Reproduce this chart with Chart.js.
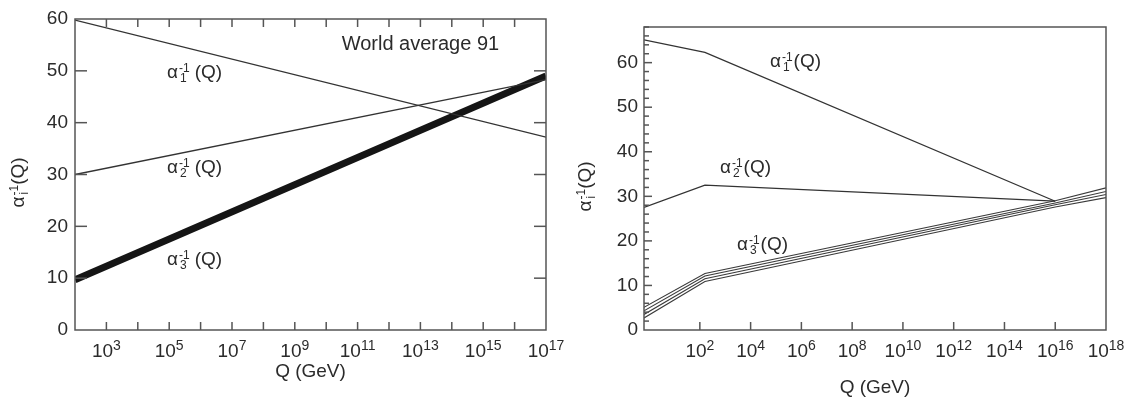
<!DOCTYPE html>
<html lang="en">
<head>
<meta charset="utf-8">
<title>Running couplings</title>
<script src="https://cdn.jsdelivr.net/npm/chart.js@4.4.1/dist/chart.umd.min.js"></script>
<style>
  html, body { margin: 0; padding: 0; background: #fff; }
  #wrap { position: relative; width: 1127px; height: 399px; }
  .panel { position: absolute; top: 0; height: 399px; }
  #left { left: 0; width: 565px; }
  #right { left: 565px; width: 562px; }
</style>
</head>
<body>
<div id="wrap">
  <div class="panel" id="left"><canvas id="chartLeft"></canvas></div>
  <div class="panel" id="right"><canvas id="chartRight"></canvas></div>
</div>
<script>
// ---- left panel: world average 91, x = log10(Q / GeV)
var leftLogQ = [2, 17];
var leftA1 = [59.8, 37.2];
var leftA2 = [30.0, 48.3];
var leftA3 = [9.7, 49.0];
var leftDecades = [3, 4, 5, 6, 7, 8, 9, 10, 11, 12, 13, 14, 15, 16, 17];
var leftLabelled = [3, 5, 7, 9, 11, 13, 15, 17];
var leftYTicks = [0, 10, 20, 30, 40, 50, 60];

// ---- right panel, x = log10(Q / GeV)
var rightLogQ = [-0.2, 2.2, 16, 18];
var rightA1 = [65.1, 62.3, 28.9, null];
var rightA2 = [27.5, 32.5, 28.9, null];
var rightA3a = [5.1, 12.7, 29.0, 31.9];
var rightA3b = [4.3, 12.1, 28.5, 31.1];
var rightA3c = [3.5, 11.5, 28.1, 30.4];
var rightA3d = [2.7, 10.9, 27.6, 29.7];
var rightDecades = [2, 4, 6, 8, 10, 12, 14, 16, 18];
var rightYTicks = [0, 10, 20, 30, 40, 50, 60];
var rightYMinor = [2, 4, 6, 8, 12, 14, 16, 18, 22, 24, 26, 28, 32, 34, 36, 38, 42, 44, 46, 48, 52, 54, 56, 58, 62, 64, 66, 68];

var FONT = '"Liberation Sans", Arial, Helvetica, sans-serif';
var INK = '#2b2b2b';
var AXIS = '#555';

function pts(xs, ys) {
  return xs.map(function (x, i) { return {x: x, y: ys[i]}; });
}

// alpha with stacked -1 superscript and subscript, then (Q)
function drawAlpha(ctx, x, y, sub, gap) {
  ctx.textAlign = 'left';
  ctx.textBaseline = 'alphabetic';
  ctx.font = '19px ' + FONT;
  ctx.fillText('\u03b1', x, y);
  var sx = x + ctx.measureText('\u03b1').width + 1;
  ctx.font = '12px ' + FONT;
  ctx.fillText('-1', sx, y - 6);
  ctx.fillText(sub, sx + 1, y + 4);
  var w = Math.max(ctx.measureText('-1').width, ctx.measureText(sub).width + 1);
  ctx.font = '19px ' + FONT;
  ctx.fillText('(Q)', sx + w + gap, y);
  return sx + w + gap + ctx.measureText('(Q)').width - x;
}

var decor = {
  id: 'decor',
  afterDraw: function (chart, args, opt) {
    if (!opt || !opt.ticks) return;
    var ctx = chart.ctx, a = chart.chartArea;
    var xs = chart.scales.x, ys = chart.scales.y;
    ctx.save();
    ctx.strokeStyle = AXIS;
    ctx.lineWidth = 1.5;
    ctx.strokeRect(a.left, a.top, a.right - a.left, a.bottom - a.top);
    opt.ticks.forEach(function (t) {
      var sc = chart.scales[t.axis];
      t.values.forEach(function (v) {
        var p = sc.getPixelForValue(v);
        ctx.beginPath();
        if (t.side === 'bottom') { ctx.moveTo(p, a.bottom); ctx.lineTo(p, a.bottom - t.len); }
        else if (t.side === 'top') { ctx.moveTo(p, a.top); ctx.lineTo(p, a.top + t.len); }
        else if (t.side === 'left') { ctx.moveTo(a.left, p); ctx.lineTo(a.left + t.len, p); }
        else { ctx.moveTo(a.right, p); ctx.lineTo(a.right - t.len, p); }
        ctx.stroke();
      });
    });
    ctx.fillStyle = INK;
    // x tick labels 10^n with raised exponent, at the scale's own ticks
    xs.ticks.forEach(function (tk) {
      if (opt.labelled.indexOf(tk.value) < 0) return;
      var p = xs.getPixelForValue(tk.value);
      var e = String(tk.value);
      ctx.textAlign = 'left';
      ctx.textBaseline = 'alphabetic';
      ctx.font = '19px ' + FONT;
      var w1 = ctx.measureText('10').width;
      ctx.font = '14px ' + FONT;
      var w2 = ctx.measureText(e).width;
      var x0 = p - (w1 + w2) / 2;
      ctx.font = '19px ' + FONT;
      ctx.fillText('10', x0, a.bottom + 27);
      ctx.font = '14px ' + FONT;
      ctx.fillText(e, x0 + w1, a.bottom + 20);
    });
    opt.alphas.forEach(function (l) {
      drawAlpha(ctx, xs.getPixelForValue(l.x), ys.getPixelForValue(l.y), l.sub, l.gap);
    });
    opt.texts.forEach(function (t) {
      ctx.font = '20px ' + FONT;
      ctx.textAlign = 'center';
      ctx.textBaseline = 'middle';
      ctx.fillText(t.text, xs.getPixelForValue(t.x), ys.getPixelForValue(t.y));
    });
    // rotated y axis title
    ctx.translate(a.left - opt.titleOffset, (a.top + a.bottom) / 2 + 3);
    ctx.rotate(-Math.PI / 2);
    drawAlpha(ctx, -30, 0, 'i', 0);
    ctx.restore();
  }
};
Chart.register(decor);

function baseOptions(o) {
  return {
    responsive: true,
    maintainAspectRatio: false,
    animation: false,
    layout: {padding: o.padding},
    plugins: {legend: {display: false}, tooltip: {enabled: false}, decor: o.decor},
    elements: {point: {radius: 0}, line: {tension: 0}},
    scales: {
      x: {
        type: 'linear', min: o.xmin, max: o.xmax,
        grid: {display: false, drawTicks: false},
        border: {display: false},
        afterFit: function (s) { s.height = o.xh; s.paddingLeft = 0; s.paddingRight = 0; },
        afterBuildTicks: function (s) { s.ticks = o.xticks.map(function (v) { return {value: v}; }); },
        ticks: {display: false},
        title: {display: true, text: 'Q (GeV)', color: INK, font: {family: FONT, size: 19},
                padding: {top: 0, bottom: o.titlePad}}
      },
      y: {
        type: 'linear', min: o.ymin, max: o.ymax,
        grid: {display: false, drawTicks: false},
        border: {display: false},
        afterFit: function (s) { s.width = o.yw; },
        afterBuildTicks: function (s) { s.ticks = o.yticks.map(function (v) { return {value: v}; }); },
        ticks: {
          autoSkip: false, padding: o.ypad, color: INK,
          font: {family: FONT, size: 19}
        }
      }
    }
  };
}

function thin(data, w, c) {
  return {data: data, borderColor: c || '#333', borderWidth: w || 1.3, fill: false, spanGaps: false};
}

new Chart(document.getElementById('chartLeft'), {
  type: 'line',
  data: {
    datasets: [
      thin(pts(leftLogQ, leftA1)),
      thin(pts(leftLogQ, leftA2)),
      {data: pts(leftLogQ, leftA3), borderColor: '#151515', borderWidth: 7, borderCapStyle: 'butt', fill: false}
    ]
  },
  options: baseOptions({
    padding: {top: 19, right: 19, left: 0, bottom: 0},
    xmin: 2, xmax: 17, ymin: 0, ymax: 60,
    xh: 69, yw: 75, ypad: 7, titlePad: 16,
    xticks: leftDecades, yticks: leftYTicks,
    decor: {
      labelled: leftLabelled,
      ticks: [
        {axis: 'x', side: 'bottom', len: 8, values: leftDecades.slice(0, -1)},
        {axis: 'x', side: 'top', len: 8, values: leftDecades.slice(0, -1)},
        {axis: 'y', side: 'left', len: 12, values: [10, 20, 30, 40, 50]},
        {axis: 'y', side: 'right', len: 12, values: [10, 20, 30, 40, 50]}
      ],
      alphas: [
        {x: 4.93, y: 48.6, sub: '1', gap: 5},
        {x: 4.93, y: 30.3, sub: '2', gap: 5},
        {x: 4.93, y: 12.5, sub: '3', gap: 5}
      ],
      texts: [{text: 'World average 91', x: 13, y: 55}],
      titleOffset: 51
    }
  })
});

var bandColor = '#3a3a3a';
new Chart(document.getElementById('chartRight'), {
  type: 'line',
  data: {
    datasets: [
      thin(pts(rightLogQ, rightA1)),
      thin(pts(rightLogQ, rightA2)),
      thin(pts(rightLogQ, rightA3a), 1.1, bandColor),
      thin(pts(rightLogQ, rightA3b), 1.1, bandColor),
      thin(pts(rightLogQ, rightA3c), 1.1, bandColor),
      thin(pts(rightLogQ, rightA3d), 1.1, bandColor)
    ]
  },
  options: baseOptions({
    padding: {top: 27, right: 21, left: 0, bottom: 0},
    xmin: -0.2, xmax: 18, ymin: 0, ymax: 68,
    xh: 69, yw: 79, ypad: 6, titlePad: 0,
    xticks: rightDecades, yticks: rightYTicks,
    decor: {
      labelled: rightDecades,
      ticks: [
        {axis: 'x', side: 'bottom', len: 8, values: rightDecades.slice(0, -1)},
        {axis: 'y', side: 'left', len: 8, values: [10, 20, 30, 40, 50, 60]},
        {axis: 'y', side: 'left', len: 5, values: rightYMinor}
      ],
      alphas: [
        {x: 4.76, y: 59.0, sub: '1', gap: 1},
        {x: 2.79, y: 35.2, sub: '2', gap: 1},
        {x: 3.46, y: 17.95, sub: '3', gap: 1}
      ],
      texts: [],
      titleOffset: 53
    }
  })
});
</script>
</body>
</html>
